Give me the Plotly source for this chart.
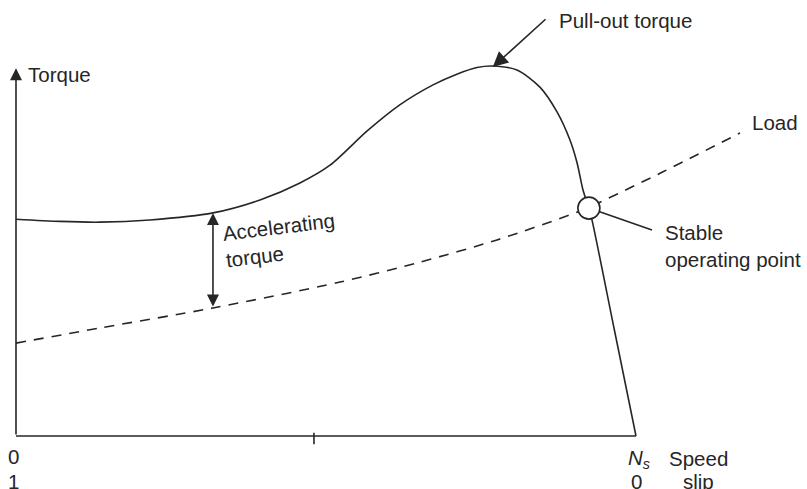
import plotly.graph_objects as go

# ---- data (speed as fraction of synchronous speed Ns, torque in % of pull-out) ----
motor_speed = [0.0, 0.071, 0.1355, 0.216, 0.3177, 0.3935, 0.458, 0.5065, 0.566, 0.619,
               0.6726, 0.711, 0.7435, 0.769, 0.808, 0.845, 0.8726, 0.8935, 0.905,
               0.9145, 0.924, 0.929, 0.9645, 1.0]
motor_torque = [58.6, 58.0, 57.8, 58.4, 60.3, 63.8, 68.4, 73.2, 82.4, 89.5,
                94.9, 97.8, 99.6, 100.0, 98.9, 94.3, 87.6, 80.0, 73.8,
                66.5, 61.6, 58.4, 29.2, 0.0]

load_speed = [0.0, 0.1355, 0.3177, 0.5226, 0.6516, 0.7758, 0.9048, 0.9419, 1.0435, 1.1677]
load_torque = [25.1, 29.2, 34.6, 41.6, 47.0, 53.0, 60.5, 63.2, 71.4, 81.9]

stable_point = (0.924, 61.6)
pullout_point = (0.769, 99.7)
accel_speed = 0.3177
accel_top, accel_bottom = 60.3, 34.6

x_tick_labels = ["0", "1"]
ns_labels = ["<i>N<sub>s</sub></i>", "0"]
axis_names = ["Speed", "slip"]

INK = "#262626"
FONT = dict(family="Liberation Sans, Arial, sans-serif", size=20.5, color=INK)
LW = 1.6

fig = go.Figure()

# axes drawn as lines
fig.add_shape(type="line", x0=0, y0=0, x1=1.0, y1=0, line=dict(color=INK, width=LW))
fig.add_shape(type="line", x0=0.4806, y0=0.9, x1=0.4806, y1=-2.2, line=dict(color=INK, width=LW))
fig.add_annotation(x=0, y=99.4, ax=0, ay=0, axref="x", ayref="y", xref="x", yref="y",
                   text="", showarrow=True, arrowhead=2, arrowsize=1.5, arrowwidth=LW,
                   arrowcolor=INK, standoff=0)

# motor torque curve
fig.add_trace(go.Scatter(x=motor_speed, y=motor_torque, mode="lines",
                         line=dict(color=INK, width=LW, shape="spline", smoothing=0.8),
                         hoverinfo="skip"))
# load curve
fig.add_trace(go.Scatter(x=load_speed, y=load_torque, mode="lines",
                         line=dict(color=INK, width=LW, shape="spline", smoothing=0.8,
                                   dash="10px,8px"),
                         hoverinfo="skip"))
# leader to stable point label
fig.add_trace(go.Scatter(x=[stable_point[0], 1.0258], y=[stable_point[1], 55.7], mode="lines",
                         line=dict(color=INK, width=LW), hoverinfo="skip"))
# stable operating point circle
fig.add_trace(go.Scatter(x=[stable_point[0]], y=[stable_point[1]], mode="markers",
                         marker=dict(size=22, color="white", line=dict(color=INK, width=LW)),
                         hoverinfo="skip"))

# accelerating torque double arrow
fig.add_annotation(x=accel_speed, y=accel_top, ax=accel_speed, ay=accel_bottom,
                   axref="x", ayref="y", text="", showarrow=True, arrowhead=2,
                   startarrowhead=2, arrowside="end+start", arrowsize=1.5,
                   startarrowsize=1.5, arrowwidth=LW, arrowcolor=INK, standoff=0, startstandoff=0)
fig.add_annotation(x=0.4274, y=53.0, text="Accelerating<br>torque", showarrow=False,
                   textangle=-7, align="left", font=FONT)

# pull-out torque arrow
fig.add_annotation(x=pullout_point[0], y=pullout_point[1], ax=0.8565, ay=113.0,
                   axref="x", ayref="y", text="", showarrow=True, arrowhead=2,
                   arrowsize=1.9, arrowwidth=LW, arrowcolor=INK, standoff=0)
fig.add_annotation(x=0.8726, y=112.4, text="Pull-out torque", showarrow=False,
                   xanchor="left", font=FONT)

fig.add_annotation(x=0.0161, y=97.6, text="Torque", showarrow=False, xanchor="left", font=FONT)
fig.add_annotation(x=1.1839, y=84.6, text="Load", showarrow=False, xanchor="left", font=FONT)
fig.add_annotation(x=1.0435, y=51.4, text="Stable<br>operating point", showarrow=False,
                   xanchor="left", align="left", font=FONT)

# axis tick labels
fig.add_annotation(x=-0.0048, y=-5.4, text=x_tick_labels[0], showarrow=False, font=FONT)
fig.add_annotation(x=-0.0048, y=-12.2, text=x_tick_labels[1], showarrow=False, font=FONT)
fig.add_annotation(x=1.0048, y=-6.2, text=ns_labels[0], showarrow=False, font=FONT)
fig.add_annotation(x=1.0016, y=-12.2, text=ns_labels[1], showarrow=False, font=FONT)
fig.add_annotation(x=1.1, y=-6.2, text=axis_names[0], showarrow=False, font=FONT)
fig.add_annotation(x=1.1, y=-12.2, text=axis_names[1], showarrow=False, font=FONT)

fig.update_layout(
    width=807, height=489, autosize=False,
    margin=dict(l=0, r=0, t=0, b=0),
    paper_bgcolor="white", plot_bgcolor="white",
    showlegend=False,
    xaxis=dict(visible=False, range=[-0.0258, 1.2758], fixedrange=True),
    yaxis=dict(visible=False, range=[-14.32, 117.84], fixedrange=True),
)

fig.write_html("out.html", config={"displayModeBar": False},
               post_script="document.body.style.margin='0';document.body.style.overflow='hidden';")
